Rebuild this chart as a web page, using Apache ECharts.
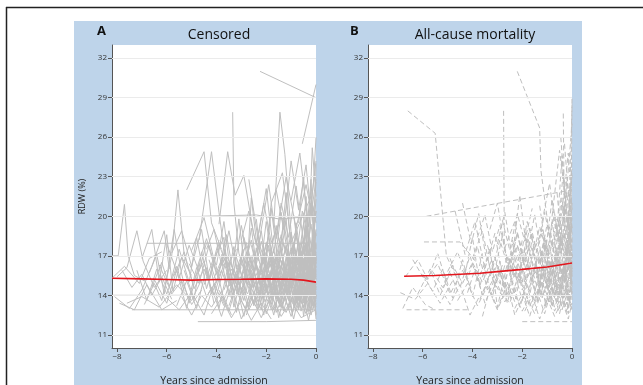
<!DOCTYPE html>
<html>
<head>
<meta charset="utf-8">
<script src="https://cdn.jsdelivr.net/npm/echarts@6/dist/echarts.min.js"></script>
<style>
  html, body { margin: 0; padding: 0; background: #fff; }
  #chart { width: 643px; height: 385px; }
</style>
</head>
<body>
<div id="chart"></div>
<script>
// tick labels
const xTicks = [-8, -6, -4, -2, 0];
const yTicks = [11, 14, 17, 20, 23, 26, 29, 32];

// panel A: censored patients, each entry one patient [years, RDW]
const censoredTraj = [
  [[-8.2,17.0],[-7.95,17.0],[-7.7,20.9],[-7.55,17.0],[-7.3,15.5],[-6.9,15.1]],
  [[-8.2,14.0],[-5.2,14.0]],
  [[-8.0,15.4],[-7.6,16.1],[-7.2,18.9],[-6.95,16.6],[-6.5,14.6],[-6.0,15.9]],
  [[-8.1,13.9],[-7.5,13.0],[-7.0,14.4],[-6.6,16.2],[-6.1,18.9],[-5.9,16.0]],
  [[-7.4,12.9],[0,12.9]],
  [[-6.8,17.95],[-0.3,17.95]],
  [[-7.0,16.8],[-6.6,19.0],[-6.3,15.0],[-6.0,18.6],[-5.75,14.3],[-5.4,16.9],[-5.0,15.5]],
  [[-6.9,13.3],[-6.5,14.9],[-6.2,13.6],[-5.8,17.0],[-5.55,22.0],[-5.3,17.1],[-4.9,14.6]],
  [[-6.7,15.7],[-6.4,17.1],[-6.1,14.1],[-5.7,19.0],[-5.4,15.6],[-5.1,13.4],[-4.7,16.4]],
  [[-7.6,13.4],[-7.0,13.9],[-6.3,13.1],[-5.6,14.8],[-5.0,13.6],[-4.6,15.2]],
  [[-5.2,22.0],[-4.5,24.9],[-4.2,19.5],[-3.8,17.5]],
  [[-4.7,18.2],[-4.2,24.9],[-3.9,20.3],[-3.6,16.1],[-3.2,17.5]],
  [[-3.9,19.4],[-3.55,24.9],[-3.25,21.6],[-2.9,23.1],[-2.5,18.6],[-2.1,16.4]],
  [[-3.35,27.9],[-3.3,21.0],[-3.1,17.2],[-2.8,15.3]],
  [[-1.7,19.2],[-1.45,27.9],[-1.25,24.7],[-0.95,17.6],[-0.6,16.0]],
  [[-2.25,31.0],[0,29.0]],
  [[-0.55,25.5],[0,30.0]],
  [[-4.6,20.0],[-2.4,20.1],[-1.5,19.8],[0,20.0]],
  [[-2.7,22.8],[-2.3,17.9],[-1.9,22.4],[-1.6,18.3],[-1.2,23.0],[-0.8,19.1],[-0.4,22.4],[0,18.5]],
  [[-1.0,21.2],[-0.65,24.8],[-0.3,19.2],[0,24.2]],
  [[-2.0,17.2],[-1.8,21.0],[-1.35,23.3],[-1.0,18.0],[-0.2,21.5],[0,19.5]],
  [[-4.0,16.3],[-3.7,19.6],[-3.4,15.2],[-3.1,19.8],[-2.8,14.9],[-2.6,21.4],[-2.3,16.6]],
  [[-5.0,17.4],[-4.5,19.9],[-4.1,16.7],[-3.7,18.4],[-3.5,14.7],[-3.0,16.1]],
  [[-4.9,15.2],[-4.5,16.6],[-4.2,14.1],[-3.8,15.9],[-3.4,13.8],[-3.0,16.8],[-2.6,14.5],[-2.2,15.7],[-1.8,13.3],[-1.4,16.2],[-1.0,14.6],[-0.6,17.4],[-0.3,14.0],[0,15.8]],
  [[-4.75,12.0],[-2.0,12.0],[0,12.1]],
  [[-3.8,17.1],[-3.4,14.7],[-3.1,16.3],[-2.7,13.1],[-2.4,17.6],[-2.0,14.2],[-1.7,16.9],[-1.3,12.8],[-0.9,15.7],[-0.5,13.4],[-0.2,16.6],[0,14.4]],
  [[-3.2,14.1],[-2.9,18.4],[-2.5,15.6],[-2.2,18.9],[-1.9,14.8],[-1.5,17.3],[-1.1,13.9],[-0.7,18.2],[-0.4,15.1],[0,17.1]],
  [[-2.6,13.6],[-2.3,15.1],[-2.0,12.6],[-1.6,14.7],[-1.2,17.8],[-0.9,13.2],[-0.5,16.0],[-0.2,12.5],[0,14.0]],
  [[-4.2,15.8],[-3.9,13.0],[-3.5,16.5],[-3.2,12.7],[-2.8,15.9],[-2.5,13.3],[-2.1,17.1],[-1.7,12.9],[-1.3,15.0],[-0.9,16.9],[-0.6,12.8],[-0.3,15.5],[0,13.1]],
  [[-2.2,16.4],[-1.9,18.5],[-1.6,15.4],[-1.3,19.6],[-1.0,16.2],[-0.7,14.4],[-0.45,18.7],[-0.15,15.9],[0,19.0]],
  [[-1.5,14.3],[-1.2,16.0],[-0.95,12.6],[-0.7,15.3],[-0.45,13.8],[-0.25,17.0],[0,12.2]],
  [[-3.6,15.0],[-3.3,17.7],[-3.0,13.5],[-2.7,16.6],[-2.35,12.9],[-2.05,16.0],[-1.75,13.9],[-1.45,18.1],[-1.15,14.2],[-0.85,16.4],[-0.55,14.8],[-0.25,18.4],[0,15.4]],
  [[-5.3,15.9],[-4.9,13.7],[-4.6,17.3],[-4.3,15.0],[-3.9,17.9],[-3.5,15.8]],
  [[-6.3,16.3],[-5.9,14.6],[-5.5,17.5],[-5.1,15.0],[-4.8,18.4],[-4.4,14.5],[-4.0,17.2]],
  [[-1.0,15.4],[-0.8,18.9],[-0.6,15.9],[-0.4,20.1],[-0.2,16.4],[0,21.3]],
  [[-0.9,13.5],[-0.7,16.6],[-0.5,12.4],[-0.3,15.0],[-0.1,13.2],[0,16.9]],
  [[-2.9,15.4],[-2.6,17.0],[-2.3,14.0],[-2.0,15.3],[-1.7,17.5],[-1.4,14.5],[-1.1,17.0],[-0.8,14.0],[-0.5,15.6],[-0.2,13.5],[0,15.0]],
  [[-4.6,13.1],[-4.2,14.6],[-3.8,12.4],[-3.4,14.8],[-3.0,12.2],[-2.6,13.9],[-2.2,12.3],[-1.8,14.0],[-1.4,12.4],[-1.0,13.6],[-0.6,12.3],[0,12.9]],
  [[-5.6,13.2],[-5.2,15.1],[-4.8,13.0],[-4.4,16.1],[-4.1,13.4]],
  [[-2.4,19.8],[-2.1,15.0],[-1.8,20.6],[-1.5,16.0],[-1.2,21.8],[-0.9,15.3],[-0.55,20.4],[-0.2,17.3],[0,22.6]],
  [[-1.8,17.6],[-1.5,13.4],[-1.2,15.6],[-0.9,14.0],[-0.6,17.0],[-0.35,13.0],[-0.1,14.8],[0,17.8]],
  [[-3.4,16.4],[-3.1,14.2],[-2.8,17.3],[-2.5,16.0],[-2.2,13.7],[-1.9,16.6],[-1.6,15.2],[-1.3,17.9],[-1.0,15.6],[-0.7,13.6],[-0.4,16.5],[0,14.6]],
  [[-0.5,16.0],[-0.35,19.2],[-0.2,22.8],[-0.08,18.0],[0,24.0]],
  [[-6.0,13.8],[-5.5,12.9],[-5.0,14.2],[-4.5,12.5],[-4.1,14.9],[-3.7,13.2]],
  [[-7.8,15.9],[-7.4,14.6],[-7.0,15.6],[-6.6,14.0],[-6.2,15.4],[-5.8,13.7]],
  [[-8.2,15.3],[-7.7,16.2],[-7.1,14.9],[-6.7,16.8],[-6.2,17.3]],
  [[-2.0,13.0],[-1.7,14.6],[-1.4,13.1],[-1.1,14.4],[-0.8,12.8],[-0.5,14.5],[-0.25,13.0],[0,13.6]],
  [[-3.0,18.2],[-2.7,20.4],[-2.4,17.8],[-2.1,21.0],[-1.8,18.0],[-1.5,19.4]],
  [[-0.3,17.8],[-0.15,20.9],[0,19.9]],
  [[-4.5,14.8],[-4.1,16.9],[-3.7,13.6],[-3.3,16.0],[-2.9,14.0],[-2.5,17.3],[-2.1,13.8],[-1.7,16.1],[-1.3,14.0],[-0.9,17.9],[-0.5,14.6],[-0.15,16.9],[0,13.8]],
  [[-3.9,14.4],[-3.5,12.8],[-3.1,15.4],[-2.75,14.1],[-2.4,16.2],[-2.05,13.5],[-1.7,15.2],[-1.35,13.0],[-1.05,16.3],[-0.75,13.3],[-0.45,17.2],[-0.15,14.3],[0,16.2]],
  [[-5.1,16.4],[-4.7,14.9],[-4.3,17.8],[-3.95,15.4],[-3.6,18.6],[-3.25,14.9],[-2.9,16.9],[-2.55,15.0],[-2.2,18.1],[-1.85,15.5],[-1.5,17.0],[-1.15,15.6],[-0.8,18.5],[-0.45,16.2],[-0.1,18.0],[0,16.6]],
  [[-2.8,12.5],[-2.5,14.3],[-2.2,12.9],[-1.9,15.6],[-1.6,12.7],[-1.3,14.1],[-1.0,12.4],[-0.7,14.0],[-0.4,12.6],[-0.1,14.4],[0,12.6]],
  [[-3.3,15.8],[-3.0,19.3],[-2.65,15.7],[-2.3,18.0],[-1.95,16.0],[-1.6,19.3],[-1.25,15.8],[-0.9,18.0],[-0.55,15.2],[-0.2,19.4],[0,16.4]],
  [[-1.3,16.6],[-1.1,14.2],[-0.9,17.2],[-0.7,15.0],[-0.5,18.0],[-0.3,14.7],[-0.1,17.6],[0,15.2]],
  [[-4.0,14.0],[-3.6,16.7],[-3.2,14.4],[-2.85,13.0],[-2.5,15.1],[-2.15,16.7],[-1.8,14.5],[-1.45,13.5],[-1.1,15.8],[-0.75,16.7],[-0.4,13.9],[0,15.6]],
  [[-2.3,18.7],[-2.0,22.1],[-1.7,17.2],[-1.4,21.0],[-1.1,18.4],[-0.8,22.3],[-0.5,18.0],[-0.2,21.0],[0,17.5]],
  [[-0.7,19.5],[-0.5,23.0],[-0.3,17.8],[-0.15,25.2],[0,21.5]],
  [[-1.6,22.0],[-1.3,19.0],[-1.0,24.2],[-0.7,20.5],[-0.4,23.9],[-0.2,20.0],[0,22.8]],
  [[-6.5,15.2],[-6.0,13.4],[-5.6,15.9],[-5.2,13.0],[-4.8,16.1],[-4.4,13.9],[-4.0,15.1]],
  [[-5.8,17.2],[-5.4,18.9],[-5.0,16.2],[-4.6,19.0],[-4.3,15.3],[-3.9,18.2]],
  [[-7.2,15.9],[-6.8,13.6],[-6.4,16.0],[-6.0,14.1],[-5.6,16.2],[-5.3,14.3]],
  [[-3.5,13.2],[-3.2,14.8],[-2.9,12.4],[-2.6,14.6],[-2.3,13.0],[-2.0,14.8],[-1.7,12.5],[-1.4,15.0],[-1.1,12.9],[-0.8,14.8],[-0.5,13.1],[-0.2,15.3],[0,13.7]],
  [[-2.1,14.6],[-1.85,17.2],[-1.6,13.7],[-1.35,16.5],[-1.1,14.8],[-0.85,17.0],[-0.6,13.9],[-0.35,16.0],[-0.1,14.5],[0,17.3]],
  [[-4.3,16.7],[-4.0,15.0],[-3.65,17.5],[-3.3,13.1],[-2.95,15.7],[-2.6,18.2],[-2.25,14.8],[-1.9,17.8],[-1.55,13.6],[-1.2,16.9],[-0.85,13.1],[-0.5,16.8],[-0.2,13.7],[0,17.0]],
  [[-0.4,13.5],[-0.3,16.0],[-0.2,12.9],[-0.1,15.6],[0,13.9]],
  [[-1.9,16.1],[-1.6,16.9],[-1.3,15.1],[-1.0,17.6],[-0.7,15.8],[-0.45,17.8],[-0.2,15.9],[0,18.7]],
  [[-2.6,17.8],[-2.3,15.5],[-2.0,18.0],[-1.7,16.1],[-1.4,18.6],[-1.1,16.5],[-0.8,16.4],[-0.5,18.3],[-0.25,16.1],[0,17.9]],
  [[-3.7,14.4],[-3.4,16.0],[-3.1,14.8],[-2.8,16.3],[-2.5,14.6],[-2.2,16.0],[-1.9,14.0],[-1.6,16.0],[-1.3,14.3],[-1.0,16.1],[-0.7,14.3],[-0.4,16.6],[-0.15,14.0],[0,15.9]],
  [[-6.0,17.9],[-5.5,15.3],[-5.1,17.8],[-4.7,15.8],[-4.4,18.0]],
  [[-4.2,12.6],[-3.8,13.8],[-3.4,12.3],[-3.0,13.6],[-2.6,12.1],[-2.2,13.4],[-1.8,12.2]],
  [[-0.9,20.1],[-0.65,16.5],[-0.4,21.5],[-0.2,15.7],[0,20.4]],
  [[-1.4,17.2],[-1.2,19.8],[-1.0,15.1],[-0.8,19.5],[-0.6,16.6],[-0.4,19.2],[-0.2,14.9],[0,18.0]],
  [[-5.4,13.9],[-5.0,12.5],[-4.6,14.0],[-4.2,13.1],[-3.8,14.3],[-3.4,12.5]],
  [[-2.4,14.9],[-2.1,12.5],[-1.8,15.9],[-1.5,12.3],[-1.2,14.5],[-0.9,12.2],[-0.6,14.7],[-0.3,12.1],[0,14.9]],
  [[-3.2,16.9],[-2.9,15.0],[-2.6,19.1],[-2.3,15.0],[-2.0,19.6],[-1.7,15.8],[-1.4,20.3],[-1.1,16.6]],
  [[-0.25,19.9],[-0.1,22.6],[0,26.0]],
  [[-7.9,13.4],[-7.3,12.9],[-6.8,14.8],[-6.2,12.9],[-5.6,13.6]],
  [[-1.1,13.2],[-0.9,15.6],[-0.7,13.0],[-0.5,14.9],[-0.3,12.8],[-0.15,15.2],[0,12.5]],
  [[-4.8,16.0],[-4.4,18.3],[-4.0,15.6],[-3.6,17.0],[-3.2,15.5],[-2.8,18.0],[-2.4,15.1],[-2.0,17.3],[-1.6,14.9],[-1.2,17.7],[-0.8,15.3],[-0.4,17.9],[0,15.2]],
  [[-3.1,13.9],[-2.8,15.2],[-2.5,13.2],[-2.2,14.7],[-1.9,13.4],[-1.6,15.8],[-1.3,13.5],[-1.0,14.9],[-0.7,13.9],[-0.4,15.8],[-0.1,13.0],[0,14.7]],
  [[-2.0,15.8],[-1.75,14.3],[-1.5,16.6],[-1.25,14.7],[-1.0,16.0],[-0.75,14.7],[-0.5,17.4],[-0.25,14.9],[0,16.5]],
  [[-1.2,14.0],[-1.0,15.2],[-0.8,13.4],[-0.6,15.0],[-0.4,13.4],[-0.2,15.9],[0,14.2]],
  [[-2.7,16.2],[-2.4,14.4],[-2.1,16.8],[-1.8,14.6],[-1.5,15.8],[-1.2,14.2],[-0.9,16.2],[-0.6,14.9],[-0.3,16.8],[0,14.8]],
  [[-3.6,16.2],[-3.3,14.2],[-3.0,15.5],[-2.7,14.8],[-2.4,16.4],[-2.1,14.4],[-1.8,16.9],[-1.5,14.0],[-1.2,16.3],[-0.9,14.3],[-0.6,16.1],[-0.3,13.6],[0,16.0]],
  [[-0.7,17.1],[-0.55,14.8],[-0.4,18.0],[-0.25,14.4],[-0.1,18.3],[0,16.1]],
  [[-1.5,18.4],[-1.25,16.1],[-1.0,18.8],[-0.75,16.3],[-0.5,19.4],[-0.25,16.6],[0,20.4]],
  [[-4.1,15.3],[-3.8,16.7],[-3.5,13.9],[-3.2,15.6],[-2.9,13.6],[-2.6,15.9],[-2.3,13.5],[-2.0,16.4]],
  [[-5.7,15.5],[-5.3,17.3],[-4.9,14.5],[-4.5,16.0],[-4.1,14.0],[-3.7,16.4]],
  [[-6.6,14.6],[-6.2,16.5],[-5.8,14.1],[-5.4,15.1],[-5.0,13.3],[-4.6,14.4]],
  [[-2.3,13.8],[-2.0,16.9],[-1.7,13.9],[-1.4,15.5],[-1.1,13.6],[-0.8,16.3],[-0.5,13.7],[-0.2,16.1],[0,13.3]],
  [[-0.6,15.5],[-0.45,13.2],[-0.3,17.3],[-0.15,14.0],[0,16.8]],
  [[-1.7,15.0],[-1.45,13.1],[-1.2,14.9],[-0.95,16.9],[-0.7,12.9],[-0.45,15.0],[-0.2,14.2],[0,15.7]],
  [[-3.0,14.6],[-2.7,12.9],[-2.4,14.0],[-2.1,15.3],[-1.8,12.9],[-1.5,13.8],[-1.2,12.7],[-0.9,14.1],[-0.6,13.5],[-0.3,12.7],[0,13.8]],
  [[-4.4,17.5],[-4.1,19.0],[-3.8,16.3],[-3.5,18.9],[-3.2,16.0],[-2.9,17.5]]
];
const censoredMeanX = [-8.2, -7, -6, -5, -4, -3, -2, -1, -0.5, 0];
const censoredMeanY = [15.3, 15.25, 15.2, 15.15, 15.2, 15.22, 15.25, 15.22, 15.15, 15.0];

// panel B: patients who died
const mortalityTraj = [
  [[-6.6,28.0],[-5.5,26.3],[-5.05,17.0],[-4.6,15.2]],
  [[-2.2,31.0],[-1.3,26.7],[-1.25,23.5],[-0.9,18.4]],
  [[-2.75,28.0],[-2.72,17.5],[-2.4,15.2]],
  [[-0.35,27.8],[-0.3,18.2],[0,16.0]],
  [[-0.05,17.0],[0,29.0]],
  [[-5.85,20.0],[0,22.0]],
  [[-5.95,18.05],[-4.5,18.05],[-3.8,16.4]],
  [[-6.65,12.9],[-4.2,12.9]],
  [[-2.0,12.0],[0,12.0]],
  [[-6.9,14.2],[-6.3,13.7],[-5.8,14.9],[-5.3,13.4],[-4.8,15.1]],
  [[-6.4,16.7],[-5.9,15.1],[-5.4,16.4],[-4.9,14.1],[-4.4,15.9],[-4.0,14.3]],
  [[-4.7,20.4],[-4.3,17.1],[-3.9,19.6],[-3.5,16.0],[-3.1,18.7],[-2.8,15.4]],
  [[-4.3,15.6],[-4.0,18.4],[-3.7,14.7],[-3.3,17.6],[-3.0,13.1],[-2.6,16.4],[-2.3,14.1],[-1.9,17.5],[-1.6,14.8],[-1.2,16.0],[-0.8,13.6],[-0.4,15.9],[0,14.9]],
  [[-3.6,12.4],[-3.3,14.5],[-3.0,13.0],[-2.6,14.9],[-2.3,12.5],[-1.9,14.2],[-1.5,12.6],[-1.1,15.2],[-0.7,12.8],[-0.3,14.4],[0,13.0]],
  [[-3.0,17.9],[-2.7,20.3],[-2.4,16.8],[-2.1,21.6],[-1.8,17.2],[-1.5,20.1],[-1.2,16.6],[-0.9,19.2],[-0.6,16.0],[-0.3,20.8],[0,17.4]],
  [[-2.5,15.5],[-2.2,17.8],[-1.9,15.0],[-1.6,18.3],[-1.3,14.4],[-1.0,17.4],[-0.7,15.3],[-0.45,18.6],[-0.2,15.6],[0,19.4]],
  [[-1.6,13.5],[-1.3,15.7],[-1.05,13.2],[-0.8,16.8],[-0.55,13.9],[-0.3,16.3],[-0.1,13.4],[0,15.5]],
  [[-1.2,19.6],[-0.9,22.5],[-0.6,18.1],[-0.35,23.4],[-0.15,19.0],[0,24.3]],
  [[-0.8,20.0],[-0.5,25.0],[-0.25,21.2],[0,27.0]],
  [[-4.9,16.8],[-4.5,14.6],[-4.1,17.0],[-3.8,15.1],[-3.4,16.9],[-3.1,14.6],[-2.8,16.3]],
  [[-3.7,13.7],[-3.3,15.6],[-2.9,14.2],[-2.5,13.4],[-2.1,15.9],[-1.7,13.1],[-1.4,14.9],[-1.0,13.4],[-0.6,14.9],[-0.2,12.9],[0,14.2]],
  [[-2.0,16.6],[-1.7,19.1],[-1.4,17.3],[-1.1,20.3],[-0.8,17.6],[-0.5,19.9],[-0.25,17.0],[0,20.7]],
  [[-5.3,14.6],[-4.9,13.3],[-4.5,14.8],[-4.1,12.5],[-3.7,14.0]],
  [[-6.0,15.6],[-5.6,14.3],[-5.2,16.0],[-4.8,13.8],[-4.4,16.7],[-4.0,13.9],[-3.6,17.2]],
  [[-1.4,15.8],[-1.15,18.0],[-0.9,14.6],[-0.7,17.0],[-0.45,14.3],[-0.25,17.7],[-0.05,15.0],[0,18.4]],
  [[-3.3,19.0],[-3.0,21.0],[-2.7,17.6],[-2.3,19.6],[-2.0,17.0]],
  [[-0.7,15.0],[-0.5,13.0],[-0.3,16.4],[-0.15,12.6],[0,15.9]],
  [[-2.9,16.0],[-2.6,13.8],[-2.3,16.9],[-2.0,14.4],[-1.7,15.7],[-1.4,13.6],[-1.1,16.9],[-0.85,14.9],[-0.6,17.6],[-0.35,14.6],[-0.1,16.8],[0,14.0]],
  [[-6.7,15.4],[-6.2,16.7],[-5.8,15.2],[-5.4,17.2],[-5.0,14.7]],
  [[-6.8,13.0],[-6.4,14.6],[-5.9,13.3],[-5.5,12.9]],
  [[-4.4,21.0],[-4.05,17.9],[-3.75,20.2],[-3.45,16.8]],
  [[-0.6,21.8],[-0.4,17.5],[-0.2,23.0],[0,19.1]],
  [[-1.9,12.8],[-1.6,14.0],[-1.3,12.2],[-1.0,13.8],[-0.7,12.4],[-0.4,13.6],[-0.15,12.2],[0,13.4]],
  [[-3.9,16.0],[-3.6,14.0],[-3.2,16.1],[-2.9,14.9],[-2.6,17.0],[-2.3,15.3],[-2.0,18.2]],
  [[-0.3,25.5],[-0.1,20.5],[0,28.5]],
  [[-2.6,15.0],[-2.3,13.5],[-2.0,16.1],[-1.7,14.0],[-1.4,17.0],[-1.1,14.2],[-0.8,16.4],[-0.55,13.7],[-0.3,16.1],[-0.1,13.9],[0,16.6]],
  [[-1.8,15.3],[-1.55,17.4],[-1.3,14.9],[-1.05,18.2],[-0.8,15.4],[-0.55,18.8],[-0.3,15.0],[-0.1,19.2],[0,16.0]],
  [[-3.2,14.3],[-2.9,15.8],[-2.6,13.4],[-2.3,15.7],[-2.0,13.6],[-1.7,16.5],[-1.4,13.5],[-1.1,15.9],[-0.8,13.1],[-0.5,15.4],[-0.2,13.3],[0,15.1]],
  [[-1.0,16.2],[-0.8,19.8],[-0.6,16.5],[-0.4,21.4],[-0.2,16.9],[0,20.0]],
  [[-0.5,17.2],[-0.35,20.8],[-0.2,17.7],[-0.08,22.5],[0,18.6]],
  [[-4.0,16.8],[-3.6,18.9],[-3.25,15.6],[-2.9,18.2],[-2.55,16.0],[-2.2,18.7],[-1.85,15.9]],
  [[-2.3,13.0],[-2.0,14.1],[-1.7,12.4],[-1.4,14.3],[-1.1,12.6],[-0.8,14.6],[-0.5,12.6],[-0.25,14.7],[0,12.8]],
  [[-1.5,16.4],[-1.25,13.9],[-1.0,16.6],[-0.75,14.1],[-0.5,16.9],[-0.3,13.8],[-0.1,17.2],[0,14.6]],
  [[-2.2,17.8],[-1.9,16.3],[-1.6,18.8],[-1.3,16.4],[-1.0,19.4],[-0.7,17.0],[-0.4,18.1],[-0.15,16.8],[0,19.9]],
  [[-0.9,13.9],[-0.7,15.6],[-0.5,14.0],[-0.3,15.5],[-0.1,14.2],[0,16.2]],
  [[-3.4,15.1],[-3.1,16.9],[-2.8,14.3],[-2.45,17.0],[-2.1,14.9],[-1.8,17.9],[-1.5,15.6]],
  [[-5.0,15.8],[-4.6,17.3],[-4.2,15.2],[-3.8,17.7],[-3.4,14.4],[-3.0,15.8]],
  [[-0.6,19.0],[-0.4,24.6],[-0.2,18.6],[0,23.2]],
  [[-1.3,20.8],[-1.05,17.5],[-0.8,21.3],[-0.55,18.4],[-0.3,22.0],[-0.1,18.2],[0,21.0]],
  [[-2.8,19.7],[-2.5,17.4],[-2.2,20.2],[-1.9,18.1],[-1.6,20.6]],
  [[-0.2,14.1],[-0.1,17.4],[0,13.6]],
  [[-4.6,13.6],[-4.2,14.9],[-3.8,13.2],[-3.4,14.7],[-3.0,12.9],[-2.6,14.6]],
  [[-1.7,14.6],[-1.45,16.6],[-1.2,13.8],[-0.95,15.3],[-0.7,14.0],[-0.45,16.5],[-0.2,14.6],[0,17.0]],
  [[-3.0,16.3],[-2.7,14.6],[-2.4,17.9],[-2.1,16.0],[-1.8,18.4],[-1.5,16.9],[-1.2,18.7],[-0.9,16.1],[-0.6,18.9],[-0.3,17.2],[0,19.0]],
  [[-6.2,14.1],[-5.7,16.0],[-5.3,14.0],[-4.9,15.7],[-4.5,13.9]],
  [[-0.45,26.0],[-0.3,22.0],[-0.15,24.8],[0,20.5]],
  [[-1.1,13.0],[-0.9,14.4],[-0.7,13.1],[-0.45,14.3],[-0.2,12.7],[0,14.3]],
  [[-2.5,16.8],[-2.2,15.2],[-1.9,17.0],[-1.6,15.2],[-1.3,17.5],[-1.0,15.0],[-0.7,17.9],[-0.4,15.4],[-0.15,18.0],[0,15.8]],
  [[-3.8,18.4],[-3.5,20.1],[-3.2,17.3],[-2.9,19.3],[-2.6,16.6]],
  [[-0.35,19.6],[-0.2,21.8],[-0.1,18.6],[0,23.6]],
  [[-2.1,15.6],[-1.85,13.5],[-1.6,15.9],[-1.35,14.3],[-1.1,16.4],[-0.85,14.4],[-0.6,15.8],[-0.35,13.8],[-0.1,15.5],[0,17.1]],
  [[-1.3,16.9],[-1.1,15.2],[-0.9,17.8],[-0.7,15.5],[-0.5,18.3],[-0.3,15.7],[-0.1,18.9],[0,17.0]],
  [[-2.7,13.9],[-2.4,15.1],[-2.1,13.1],[-1.8,14.8],[-1.5,13.4],[-1.2,15.0],[-0.9,13.5],[-0.6,15.2],[-0.3,13.1],[0,14.5]],
  [[-0.8,14.2],[-0.6,16.9],[-0.4,14.5],[-0.2,17.4],[0,14.9]],
  [[-3.5,15.9],[-3.2,13.8],[-2.9,16.6],[-2.6,14.1],[-2.3,16.2],[-2.0,15.0],[-1.7,17.2],[-1.4,15.3],[-1.1,17.8],[-0.8,15.0]],
  [[-1.9,18.9],[-1.6,16.7],[-1.3,19.2],[-1.0,17.3],[-0.7,20.2],[-0.45,17.2],[-0.2,20.1],[0,18.0]],
  [[-0.55,15.4],[-0.4,18.1],[-0.25,15.1],[-0.1,18.6],[0,15.4]],
  [[-4.2,14.2],[-3.9,16.0],[-3.5,13.4],[-3.1,15.3],[-2.7,13.5],[-2.4,14.5],[-2.0,12.8],[-1.7,13.9]],
  [[-1.6,17.6],[-1.35,15.5],[-1.1,18.3],[-0.85,16.0],[-0.6,17.0],[-0.35,15.3],[-0.15,17.6],[0,16.2]],
  [[-2.4,18.2],[-2.1,16.5],[-1.8,19.6],[-1.5,17.5],[-1.2,19.0],[-0.9,17.1],[-0.6,19.8],[-0.3,18.1],[0,21.6]],
  [[-1.0,14.9],[-0.8,13.2],[-0.6,14.6],[-0.4,12.9],[-0.2,14.1],[0,13.2]],
  [[-0.25,16.0],[-0.1,20.2],[0,16.9]],
  [[-5.6,15.8],[-5.2,14.6],[-4.8,16.3],[-4.4,14.9],[-4.0,16.5],[-3.6,15.0],[-3.2,16.8]],
  [[-3.4,17.8],[-3.1,15.9],[-2.8,18.5],[-2.5,15.9],[-2.2,18.8],[-1.9,16.6]],
  [[-1.4,14.1],[-1.2,16.2],[-1.0,14.5],[-0.8,15.8],[-0.6,13.5],[-0.4,16.1],[-0.2,13.8],[0,16.6]]
];
const mortalityMeanX = [-6.75, -5.5, -4.5, -3.7, -3, -2, -1, -0.5, 0];
const mortalityMeanY = [15.45, 15.5, 15.6, 15.67, 15.8, 15.97, 16.15, 16.3, 16.45];

const chart = echarts.init(document.getElementById('chart'));
const font = 'Open Sans, DejaVu Sans, sans-serif';
const minus = v => String(v).replace('-', '\u2212');

function xAxisFor(idx) {
  return {
    type: 'value', gridIndex: idx, min: -8.2, max: 0,
    name: 'Years since admission', nameLocation: 'middle', nameGap: 28,
    nameTextStyle: { fontSize: 10.5, color: '#222', fontFamily: font },
    axisLine: { show: true, onZero: false, lineStyle: { color: '#555', width: 1 } },
    axisTick: { show: true, length: 4, customValues: xTicks, lineStyle: { color: '#555' } },
    axisLabel: { customValues: xTicks, formatter: minus, fontSize: 8, color: '#333', margin: 5, fontFamily: font },
    splitLine: { show: false }
  };
}
function yAxisFor(idx, withName) {
  return {
    type: 'value', gridIndex: idx, min: 10, max: 33,
    name: withName ? 'RDW (%)' : '', nameLocation: 'middle', nameGap: 25,
    nameTextStyle: { fontSize: 9, color: '#222', fontFamily: font },
    axisLine: { show: true, onZero: false, lineStyle: { color: '#555', width: 1 } },
    axisTick: { show: true, length: 4, customValues: yTicks, lineStyle: { color: '#555' } },
    axisLabel: { customValues: yTicks, fontSize: 8, color: '#333', margin: 5, fontFamily: font },
    splitLine: { show: false }
  };
}

const series = [];
[0, 1].forEach(i => {
  series.push({
    type: 'line', xAxisIndex: i, yAxisIndex: i, data: [], silent: true, z: 1,
    markLine: {
      silent: true, symbol: 'none', animation: false, label: { show: false },
      lineStyle: { color: '#ebebeb', type: 'solid', width: 1 },
      data: yTicks.map(v => ({ yAxis: v }))
    }
  });
});
censoredTraj.forEach(t => series.push({
  type: 'line', xAxisIndex: 0, yAxisIndex: 0, data: t, symbol: 'none', silent: true, z: 2,
  lineStyle: { color: '#bfbfbf', width: 1 }
}));
mortalityTraj.forEach(t => series.push({
  type: 'line', xAxisIndex: 1, yAxisIndex: 1, data: t, symbol: 'none', silent: true, z: 2,
  lineStyle: { color: '#bfbfbf', width: 1, type: [5, 3] }
}));
series.push({
  type: 'line', xAxisIndex: 0, yAxisIndex: 0, symbol: 'none', silent: true, z: 5,
  data: censoredMeanX.map((x, k) => [x, censoredMeanY[k]]),
  lineStyle: { color: '#e3161d', width: 1.6 }
});
series.push({
  type: 'line', xAxisIndex: 1, yAxisIndex: 1, symbol: 'none', silent: true, z: 5,
  data: mortalityMeanX.map((x, k) => [x, mortalityMeanY[k]]),
  lineStyle: { color: '#e3161d', width: 1.6 }
});

chart.setOption({
  animation: false,
  backgroundColor: '#fff',
  graphic: [
    { type: 'rect', z: -10, shape: { x: 74, y: 21, width: 508, height: 364 }, style: { fill: '#bed4ea' } },
    { type: 'line', shape: { x1: 6, y1: 7.5, x2: 643, y2: 7.5 }, style: { stroke: '#222', lineWidth: 1.5 } },
    { type: 'line', shape: { x1: 6.5, y1: 7, x2: 6.5, y2: 385 }, style: { stroke: '#222', lineWidth: 1.5 } },
    { type: 'text', left: 97, top: 25, style: { text: 'A', font: 'bold 13px ' + font, fill: '#111' } },
    { type: 'text', left: 350, top: 25, style: { text: 'B', font: 'bold 13px ' + font, fill: '#111' } }
  ],
  title: [
    { text: 'Censored', left: 214, top: 23, textAlign: 'center',
      textStyle: { fontSize: 14, fontWeight: 'normal', color: '#111', fontFamily: font } },
    { text: 'All-cause mortality', left: 470, top: 23, textAlign: 'center',
      textStyle: { fontSize: 14, fontWeight: 'normal', color: '#111', fontFamily: font } }
  ],
  grid: [
    { left: 112, top: 45, width: 204, height: 303, outerBoundsMode: 'none',
      show: true, backgroundColor: '#fff', borderWidth: 0 },
    { left: 368, top: 45, width: 204, height: 303, outerBoundsMode: 'none',
      show: true, backgroundColor: '#fff', borderWidth: 0 }
  ],
  xAxis: [xAxisFor(0), xAxisFor(1)],
  yAxis: [yAxisFor(0, true), yAxisFor(1, false)],
  series: series
});
</script>
</body>
</html>
